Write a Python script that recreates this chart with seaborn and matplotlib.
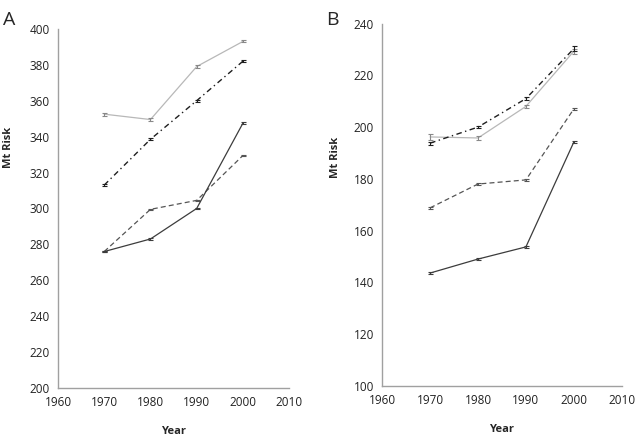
import numpy as np
import pandas as pd
import seaborn as sns
import matplotlib.pyplot as plt

# data -------------------------------------------------------------------------
years = [1970, 1980, 1990, 2000]
series = ['s1', 's2', 's3', 's4']

# panel A
a_light = [352.5, 349.5, 379.0, 393.0]
a_dashdot = [313.0, 338.5, 360.0, 382.0]
a_dashed = [276.0, 299.5, 304.5, 329.5]
a_solid = [276.0, 283.0, 300.0, 347.5]
a_light_err = [0.9, 0.7, 0.6, 0.6]
a_dashdot_err = [0.6, 0.6, 0.6, 0.6]
a_dashed_err = [0.4, 0.4, 0.4, 0.4]
a_solid_err = [0.4, 0.4, 0.4, 0.5]

# panel B
b_light = [196.2, 195.8, 208.0, 229.3]
b_dashdot = [193.8, 200.0, 211.0, 230.3]
b_dashed = [168.8, 178.0, 179.6, 207.0]
b_solid = [143.6, 149.0, 153.7, 194.2]
b_light_err = [1.1, 0.6, 0.6, 1.0]
b_dashdot_err = [0.6, 0.5, 0.6, 1.0]
b_dashed_err = [0.3, 0.3, 0.3, 0.3]
b_solid_err = [0.3, 0.3, 0.4, 0.4]

styles = {
    's1': dict(color='#b8b8b8', ls='-', lw=0.9),
    's2': dict(color='#1e1e1e', ls=(0, (4, 2.5, 1, 2.5)), lw=1.0),
    's3': dict(color='#555555', ls=(0, (4, 2.5)), lw=0.9),
    's4': dict(color='#3c3c3c', ls='-', lw=0.9),
}


def make_df(vals, errs):
    rows = []
    for s, v, e in zip(series, vals, errs):
        for yr, y, err in zip(years, v, e):
            rows.append({'Year': yr, 'Mt Risk': y, 'err': err, 'series': s})
    return pd.DataFrame(rows)


def draw_panel(ax, df, ylim, ylab_pos):
    for s in series:
        d = df[df['series'] == s]
        st = styles[s]
        sns.lineplot(data=d, x='Year', y='Mt Risk', ax=ax, color=st['color'],
                     linestyle=st['ls'], linewidth=st['lw'], legend=False)
        ax.errorbar(d['Year'], d['Mt Risk'], yerr=d['err'], fmt='none',
                    ecolor=st['color'] if s != 's1' else '#888888',
                    elinewidth=0.8, capsize=1.8, capthick=0.8)
    ax.set_xlim(1960, 2010)
    ax.set_ylim(*ylim)
    ax.set_xticks(range(1960, 2011, 10))
    ax.set_yticks(range(ylim[0], ylim[1] + 1, 20))
    ax.tick_params(length=0, labelsize=8.5, colors='#222222', pad=6)
    for sp in ['top', 'right']:
        ax.spines[sp].set_visible(False)
    for sp in ['left', 'bottom']:
        ax.spines[sp].set_color('#a0a0a0')
        ax.spines[sp].set_linewidth(1.0)
    ax.set_xlabel('Year', fontsize=8, fontweight='bold', labelpad=12)
    ax.set_ylabel('Mt Risk', fontsize=8, fontweight='bold')
    ax.yaxis.set_label_coords(*ylab_pos)
    ax.grid(False)


sns.set_theme(style='white')
plt.rcParams['font.family'] = ['Open Sans', 'DejaVu Sans']

fig = plt.figure(figsize=(6.37, 4.37), dpi=100)
ax1 = fig.add_axes([0.091, 0.112, 0.363, 0.822])
ax2 = fig.add_axes([0.600, 0.117, 0.376, 0.829])

df_a = make_df([a_light, a_dashdot, a_dashed, a_solid],
               [a_light_err, a_dashdot_err, a_dashed_err, a_solid_err])
df_b = make_df([b_light, b_dashdot, b_dashed, b_solid],
               [b_light_err, b_dashdot_err, b_dashed_err, b_solid_err])

draw_panel(ax1, df_a, (200, 400), (-0.19, 0.67))
draw_panel(ax2, df_b, (100, 240), (-0.17, 0.63))

fig.text(0.005, 0.975, 'A', fontsize=14, va='top', ha='left')
fig.text(0.512, 0.975, 'B', fontsize=14, va='top', ha='left')

fig.savefig('out.png', dpi=100)
